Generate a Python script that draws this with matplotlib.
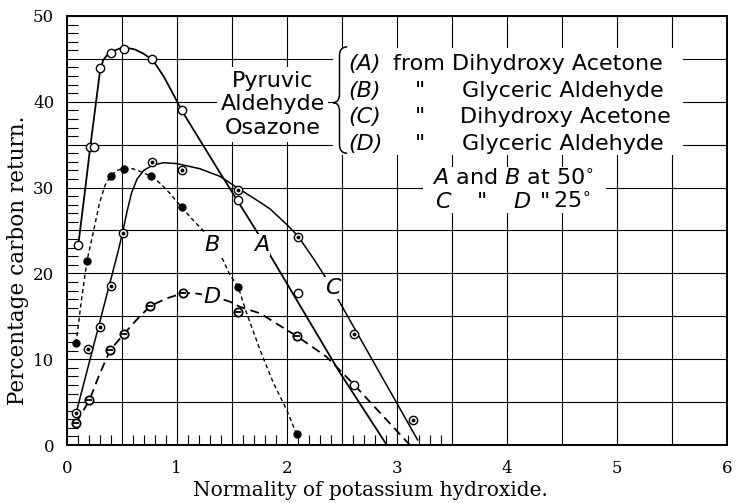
import matplotlib
matplotlib.use("Agg")
import matplotlib.pyplot as plt
from matplotlib.patches import Rectangle, PathPatch
from matplotlib.path import Path
from matplotlib.ticker import FixedLocator, MultipleLocator, FuncFormatter
import numpy as np

# ---------------- data ----------------
# Curve A : Pyruvic aldehyde osazone from dihydroxy acetone, 50 deg (open circles, solid)
xA = [0.105, 0.21, 0.25, 0.30, 0.40, 0.52, 0.78, 1.045, 1.56, 2.10, 2.61]
yA = [23.3, 34.7, 34.7, 43.9, 45.7, 46.2, 44.95, 39.0, 28.55, 17.75, 7.0]
xA_line = [0.105, 0.167, 0.21, 0.26, 0.30, 0.33, 0.37, 0.42, 0.48, 0.54, 0.62, 0.70, 0.78,
           0.88, 0.96, 1.045, 1.395, 1.727, 1.864, 2.48, 2.91]
yA_line = [23.3, 29.7, 34.3, 39.3, 43.3, 44.8, 45.5, 45.9, 46.2, 46.3, 46.1, 45.6, 44.9,
           43.0, 41.1, 39.0, 31.7, 24.9, 21.8, 8.5, 0.0]

# Curve B : from glyceric aldehyde, 50 deg (filled dots, short dashes)
xB = [0.085, 0.185, 0.40, 0.52, 0.77, 1.045, 1.56, 2.09]
yB = [11.85, 21.5, 31.4, 32.2, 31.3, 27.7, 18.4, 1.25]
xB_line = [0.085, 0.135, 0.185, 0.24, 0.30, 0.35, 0.40, 0.46, 0.53, 0.60, 0.667, 0.77,
           0.85, 0.94, 1.045, 1.15, 1.24, 1.32, 1.42, 1.485, 1.56, 1.636, 1.757, 1.88,
           2.0, 2.09]
yB_line = [11.85, 17.0, 21.5, 24.7, 28.3, 30.3, 31.4, 32.0, 32.3, 32.2, 31.9, 31.3,
           30.5, 29.3, 27.7, 26.2, 25.0, 23.4, 21.6, 19.8, 18.4, 15.35, 11.1, 7.2,
           4.1, 1.25]

# Curve C : from dihydroxy acetone, 25 deg (dotted circles, solid)
xC = [0.085, 0.194, 0.306, 0.405, 0.51, 0.78, 1.045, 1.56, 2.10, 2.61, 3.15]
yC = [3.7, 11.15, 13.8, 18.5, 24.7, 33.0, 32.0, 29.7, 24.3, 12.9, 2.9]
xC_line = [0.085, 0.47, 0.51, 0.55, 0.59, 0.64, 0.70, 0.78, 0.88, 1.0, 1.21, 1.395,
           1.56, 1.757, 1.85, 2.0, 2.10, 2.25, 2.36, 3.19]
yC_line = [3.7, 22.7, 24.9, 27.3, 29.4, 31.0, 32.0, 32.6, 32.9, 32.8, 32.2, 31.3,
           29.9, 28.3, 27.5, 25.7, 24.4, 21.6, 19.4, 0.6]

# Curve D : from glyceric aldehyde, 25 deg (barred circles, long dashes)
xD = [0.085, 0.206, 0.397, 0.518, 0.76, 1.06, 1.56, 2.09]
yD = [2.6, 5.2, 11.1, 12.9, 16.2, 17.7, 15.5, 12.7]
xD_line = [0.085, 0.206, 0.30, 0.397, 0.518, 0.636, 0.76, 0.91, 1.06, 1.15, 1.32,
           1.485, 1.575, 1.757, 2.09, 2.36, 2.6, 3.12]
yD_line = [2.6, 5.2, 8.3, 11.1, 12.9, 14.6, 16.2, 17.1, 17.7, 17.7, 17.4,
           16.7, 16.1, 15.35, 12.7, 10.3, 7.2, 0.0]

x_tick_labels = ["0", "1", "2", "3", "4", "5", "6"]
y_tick_labels = ["0", "10", "20", "30", "40", "50"]

# ---------------- figure ----------------
plt.rcParams['font.family'] = ['DejaVu Serif']
plt.rcParams['mathtext.fontset'] = 'dejavusans'
SANS = ['DejaVu Sans']

fig = plt.figure(figsize=(7.37, 5.03), dpi=100)
ax = fig.add_axes([0.0905, 0.1153, 0.8955, 0.8529])
ax.set_xlim(0, 6)
ax.set_ylim(0, 50)

# ticks / grid
ax.xaxis.set_major_locator(MultipleLocator(0.5))
ax.yaxis.set_major_locator(MultipleLocator(5))
ax.xaxis.set_major_formatter(FuncFormatter(
    lambda v, p: x_tick_labels[int(round(v))] if abs(v - round(v)) < 1e-6 and 0 <= round(v) < len(x_tick_labels) else ""))
ax.yaxis.set_major_formatter(FuncFormatter(
    lambda v, p: y_tick_labels[int(round(v / 10))] if abs(v / 10 - round(v / 10)) < 1e-6 else ""))
ax.xaxis.set_minor_locator(FixedLocator(np.arange(1, 35) / 10.0))
ax.yaxis.set_minor_locator(MultipleLocator(1))
ax.tick_params(axis='both', which='major', length=0, labelsize=12)
ax.tick_params(axis='x', which='major', pad=11)
ax.tick_params(axis='y', which='major', pad=9)
ax.tick_params(axis='x', which='minor', direction='in', length=7, width=0.8)
ax.tick_params(axis='y', which='minor', direction='in', length=8, width=0.8)
ax.grid(which='major', color='black', lw=0.8)
ax.set_axisbelow(True)
for s in ax.spines.values():
    s.set_linewidth(1.4)

ax.set_xlabel("Normality of potassium hydroxide.", fontsize=14.5)
ax.xaxis.label.set_va('center')
ax.xaxis.set_label_coords(0.4595, -0.105)
ax.set_ylabel("Percentage carbon return.", fontsize=15.5)
ax.yaxis.label.set_va('center')
ax.yaxis.set_label_coords(-0.0738, 0.431)

# ---------------- curves ----------------
ax.plot(xA_line, yA_line, color='black', lw=1.3, zorder=3)
ax.plot(xC_line, yC_line, color='black', lw=1.1, zorder=3)
lb, = ax.plot(xB_line, yB_line, color='black', lw=1.0, zorder=3)
lb.set_dashes([3, 2.2])
ld, = ax.plot(xD_line, yD_line, color='black', lw=1.3, zorder=3)
ld.set_dashes([5, 3])

ax.plot(xA, yA, 'o', ms=6.0, mfc='white', mec='black', mew=1.0, zorder=5)
ax.plot(xC, yC, 'o', ms=6.0, mfc='white', mec='black', mew=1.0, zorder=5)
ax.plot(xC, yC, 'o', ms=1.8, mfc='black', mec='black', zorder=6)
ax.plot(xB, yB, 'o', ms=5.0, mfc='black', mec='black', zorder=5)
ax.plot(xD, yD, 'o', ms=6.0, mfc='white', mec='black', mew=1.3, zorder=5)
ax.plot(xD, yD, '_', ms=5.0, mec='black', mew=1.3, zorder=6)

# curve letters
lab_kw = dict(fontsize=16, style='italic', family=SANS, ha='center', va='center', zorder=4,
              bbox=dict(facecolor='white', edgecolor='none', pad=1.0))
ax.text(1.77, 23.3, "A", **lab_kw)
ax.text(1.32, 23.3, "B", **lab_kw)
ax.text(2.42, 18.3, "C", **lab_kw)
ax.text(1.32, 17.3, "D", **lab_kw)

# ---------------- legend block ----------------
for (x0, x1, y0, y1) in [(2.42, 5.60, 33.8, 46.3), (3.24, 4.90, 27.0, 32.4), (1.37, 2.38, 35.3, 44.0)]:
    ax.add_patch(Rectangle((x0, y0), x1 - x0, y1 - y0, facecolor='white', edgecolor='none', zorder=1.5))

tk = dict(fontsize=16, family=SANS, va='baseline', zorder=7)
ax.text(1.876, 41.7, "Pyruvic", ha='center', **tk)
ax.text(1.876, 39.0, "Aldehyde", ha='center', **tk)
ax.text(1.876, 36.3, "Osazone", ha='center', **tk)

# brace
xt, xm, xe = 2.42, 2.48, 2.55
yt, ymid, yb = 46.4, 39.9, 34.0
d = 1.0
verts = [(xe, yt), (xm, yt), (xm, yt - d), (xm, ymid + d), (xm, ymid), (xt, ymid),
         (xm, ymid), (xm, ymid - d), (xm, yb + d), (xm, yb), (xe, yb)]
codes = [Path.MOVETO, Path.CURVE3, Path.CURVE3, Path.LINETO, Path.CURVE3, Path.CURVE3,
         Path.CURVE3, Path.CURVE3, Path.LINETO, Path.CURVE3, Path.CURVE3]
ax.add_patch(PathPatch(Path(verts, codes), facecolor='none', edgecolor='black', lw=1.1, zorder=7))

rows_y = [43.7, 40.6, 37.5, 34.4]
row_keys = ["(A)", "(B)", "(C)", "(D)"]
row_names = ["from Dihydroxy Acetone", "Glyceric Aldehyde", "Dihydroxy Acetone", "Glyceric Aldehyde"]
row_name_x = [2.966, 3.594, 3.575, 3.594]
for i in range(4):
    ax.text(2.56, rows_y[i], row_keys[i], ha='left', style='italic', **tk)
    ax.text(row_name_x[i], rows_y[i], row_names[i], ha='left', **tk)
    if i > 0:
        ax.text(3.21, rows_y[i], '"', ha='center', **tk)

ax.text(3.32, 30.3, r"$\mathit{A}$ and $\mathit{B}$ at 50$^{\circ}$", ha='left', **tk)
ax.text(3.35, 27.6, r"$\mathit{C}$", ha='left', **tk)
ax.text(3.73, 27.6, '"', ha='left', **tk)
ax.text(4.06, 27.6, r"$\mathit{D}$", ha='left', **tk)
ax.text(4.30, 27.6, '"', ha='left', **tk)
ax.text(4.42, 27.6, r"25$^{\circ}$", ha='left', **tk)

fig.savefig("out.png", dpi=100)
